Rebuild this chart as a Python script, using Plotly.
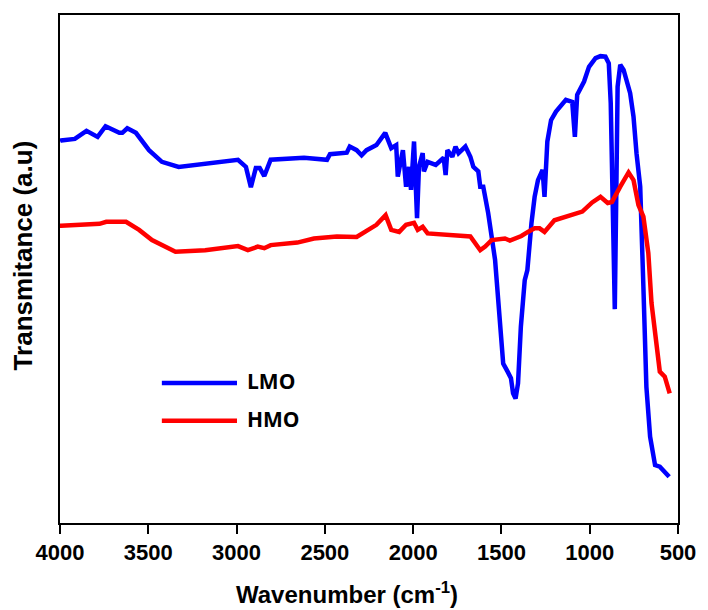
import plotly.graph_objects as go

# LMO spectrum (wavenumber cm-1, transmittance a.u.)
lmo_wn = [4000, 3994, 3916, 3850, 3787, 3742, 3664, 3647, 3619, 3570, 3496, 3423, 3328, 3178,
          2992, 2947, 2919, 2891, 2869, 2843, 2807, 2618, 2488, 2471, 2376, 2359, 2320, 2292,
          2264, 2208, 2158, 2124, 2096, 2087, 2058, 2040, 2023, 2012, 1995, 1978, 1967, 1946,
          1939, 1918, 1872, 1827, 1816, 1806, 1778, 1760, 1743, 1704, 1676, 1659, 1631, 1620,
          1603, 1575, 1555, 1536, 1527, 1508, 1490, 1465, 1446, 1434, 1420, 1406, 1390, 1368,
          1353, 1330, 1312, 1293, 1284, 1267, 1256, 1247, 1240, 1219, 1191, 1135, 1099, 1084,
          1071, 1032, 1004, 967, 939, 911, 892, 881, 870, 858, 849, 842, 827, 808, 771, 752,
          735, 714, 696, 679, 658, 630, 603, 575, 550]
lmo_t = [75.2, 75.3, 75.6, 77.2, 76.0, 78.1, 76.8, 76.8, 77.7, 76.8, 73.4, 71.1, 70.1, 70.7,
         71.5, 70.1, 66.1, 69.9, 69.9, 68.3, 71.5, 71.9, 71.5, 72.6, 72.9, 74.1, 73.4, 72.4,
         73.4, 74.4, 76.8, 73.8, 74.4, 68.2, 73.4, 66.2, 70.1, 65.6, 75.1, 60.0, 70.1, 72.8,
         69.2, 71.1, 70.5, 71.9, 68.5, 73.4, 72.1, 74.1, 72.8, 74.1, 72.1, 70.1, 69.2, 66.2,
         66.2, 61.0, 56.4, 51.8, 47.8, 40.0, 31.4, 29.8, 28.5, 25.5, 24.5, 27.5, 38.6, 47.8,
         49.8, 59.0, 64.2, 67.5, 68.2, 69.5, 64.2, 73.4, 75.1, 79.3, 81.0, 83.3, 82.9, 76.0,
         84.3, 86.9, 89.8, 91.5, 91.9, 91.8, 90.5, 82.7, 59.6, 42.1, 66.2, 85.9, 90.2, 89.2,
         84.6, 80.0, 72.8, 66.2, 46.5, 26.8, 17.0, 11.4, 11.1, 10.1, 9.1]

# HMO spectrum
hmo_wn = [4000, 3994, 3776, 3738, 3626, 3552, 3479, 3346, 3178, 2992, 2936, 2880, 2843, 2807,
          2656, 2562, 2432, 2320, 2208, 2156, 2124, 2079, 2040, 1995, 1974, 1946, 1918, 1760,
          1676, 1620, 1592, 1555, 1480, 1452, 1387, 1350, 1312, 1284, 1256, 1200, 1127, 1042,
          986, 939, 898, 874, 827, 780, 752, 724, 696, 668, 650, 630, 603, 575, 566, 547]
hmo_t = [58.5, 58.5, 58.9, 59.3, 59.3, 57.7, 55.7, 53.4, 53.7, 54.5, 53.7, 54.4, 54.1, 54.7,
         55.2, 56.0, 56.4, 56.3, 58.7, 60.6, 57.7, 57.3, 58.7, 59.1, 57.7, 58.3, 57.0, 56.5,
         56.4, 53.7, 54.4, 55.7, 56.0, 55.6, 56.5, 57.3, 58.0, 58.0, 57.3, 59.6, 60.3, 61.3,
         63.1, 64.2, 63.0, 63.2, 66.2, 69.0, 67.5, 62.6, 60.3, 53.1, 43.3, 36.7, 29.8, 28.8,
         27.5, 25.5]

x_ticks = [4000, 3500, 3000, 2500, 2000, 1500, 1000, 500]
series_names = ["LMO", "HMO"]
series_colors = ["#0000FF", "#FF0000"]

fig = go.Figure()
fig.add_trace(go.Scatter(x=lmo_wn, y=lmo_t, mode="lines", name=series_names[0],
                         line=dict(color=series_colors[0], width=4.5)))
fig.add_trace(go.Scatter(x=hmo_wn, y=hmo_t, mode="lines", name=series_names[1],
                         line=dict(color=series_colors[1], width=4.5)))

# custom legend (long line samples)
leg_y = [0.2756, 0.2014]
for i, nm in enumerate(series_names):
    fig.add_shape(type="line", xref="paper", yref="paper", x0=0.1648, x1=0.2864,
                  y0=leg_y[i], y1=leg_y[i], line=dict(color=series_colors[i], width=4.5))
    fig.add_annotation(xref="paper", yref="paper", x=0.300, y=leg_y[i] + 0.004, text=nm,
                       showarrow=False, xanchor="left", yanchor="middle",
                       font=dict(family="Open Sans", size=21, color="black", weight="bold"))

fig.add_annotation(xref="paper", yref="paper", x=-0.0592, y=0.5276, text="Transmitance (a.u)",
                   textangle=-90, showarrow=False, xanchor="center", yanchor="middle",
                   font=dict(family="Liberation Sans", size=26, color="black", weight="bold"))
fig.add_annotation(xref="paper", yref="paper", x=0.464, y=-0.138, text="Wavenumber (cm<sup>-1</sup>)",
                   showarrow=False, xanchor="center", yanchor="middle",
                   font=dict(family="Liberation Sans", size=24, color="black", weight="bold"))

fig.update_layout(
    width=708, height=610,
    margin=dict(l=60, r=23, t=15, b=87),
    paper_bgcolor="white", plot_bgcolor="white",
    showlegend=False,
)
fig.update_xaxes(range=[4000, 500], tickvals=x_ticks, ticktext=[str(v) for v in x_ticks],
                 showgrid=False, zeroline=False, showline=True, linecolor="black", linewidth=2,
                 mirror=True, ticks="outside", ticklen=9, tickwidth=2, tickcolor="black",
                 tickfont=dict(family="Liberation Sans", size=22, color="black", weight="bold"))
fig.update_yaxes(range=[0, 100], showgrid=False, zeroline=False, showline=True, linecolor="black",
                 linewidth=2, mirror=True, ticks="", showticklabels=False)

fig.write_html("out.html")
